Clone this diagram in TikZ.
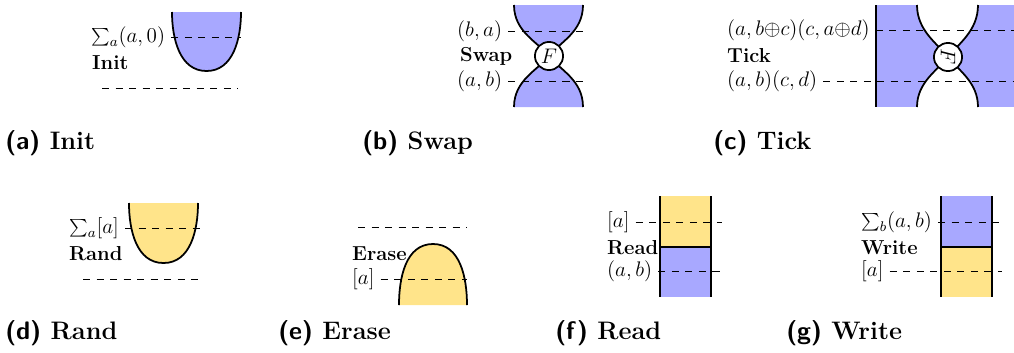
\documentclass[tikz,border=0pt]{standalone}
\usepackage{graphicx}
\definecolor{qblue}{RGB}{168,168,255}
\definecolor{cyellow}{RGB}{255,228,138}
\begin{document}
\begin{tikzpicture}[x=0.2mm,y=-0.2mm,
    wire/.style={dash pattern=on 4pt off 3.7pt},
    bd/.style={line width=1pt},
    lbl/.style={anchor=west,font=\fontsize{11.5}{14}\selectfont},
    gate/.style={circle,draw,line width=1pt,fill=white,inner sep=0pt,minimum size=16pt,font=\fontsize{11.5}{14}\selectfont},
    subcap/.style={anchor=west,inner sep=0pt,font=\Large\bfseries}]
\useasboundingbox (0,0) rectangle (1014,352);
% (a) Init
\fill[qblue](172,12) to[out=-90,in=180] (206.5,71) to[out=0,in=-90] (241,12)--cycle;
\node[lbl] (initTop) at (85,37) {$\sum_a(a,0)$};
\node[lbl] (initName) at (86,63) {\textbf{Init}};
\coordinate (initTopEnd) at (241,37);
\coordinate (initBotA) at (102,88);
\coordinate (initBotB) at (238,88);
\draw[wire](initTop.east)--(initTopEnd);
\draw[wire](initBotA)--(initBotB);
\draw[bd](172,12) to[out=-90,in=180] (206.5,71) to[out=0,in=-90] (241,12);
\node[subcap] (capA) at (5,143) {{\sffamily (a)} Init};
% (b) Swap
\fill[qblue](514,5) .. controls (514,32) and (538,42) .. (549,56) .. controls (560,42) and (583,32) .. (583,5)--cycle;
\fill[qblue](514,107) .. controls (514,80) and (538,70) .. (549,56) .. controls (560,70) and (583,80) .. (583,107)--cycle;
\node[lbl] (swapTop) at (451,31) {$(b,a)$};
\node[lbl] (swapName) at (454,56) {\textbf{Swap}};
\node[lbl] (swapBot) at (451,81) {$(a,b)$};
\coordinate (swapTopEnd) at (583,31);
\coordinate (swapBotEnd) at (583,81);
\draw[wire](swapTop.east)--(swapTopEnd);
\draw[wire](swapBot.east)--(swapBotEnd);
\draw[bd](514,5) .. controls (514,32) and (538,42) .. (549,56) .. controls (560,42) and (583,32) .. (583,5);
\draw[bd](514,107) .. controls (514,80) and (538,70) .. (549,56) .. controls (560,70) and (583,80) .. (583,107);
\node[gate] (swapF) at (549,56) {$F$};
\node[subcap] (capB) at (362,143) {{\sffamily (b)} Swap};
% (c) Tick
\fill[qblue](876,5) rectangle (1014,107);
\fill[white](917,5) .. controls (917,31) and (938,44) .. (948,57) .. controls (958,44) and (978,31) .. (978,5)--cycle;
\fill[white](917,107) .. controls (917,82) and (938,70) .. (948,57) .. controls (958,70) and (978,82) .. (978,107)--cycle;
\node[lbl] (tickTop) at (721,30) {$(a,b{\oplus}c)(c,a{\oplus}d)$};
\node[lbl] (tickName) at (721,56) {\textbf{Tick}};
\node[lbl] (tickBot) at (721,81) {$(a,b)(c,d)$};
\coordinate (tickTopEnd) at (1014,30);
\coordinate (tickBotEnd) at (1014,81);
\draw[wire](tickTop.east)--(tickTopEnd);
\draw[wire](tickBot.east)--(tickBotEnd);
\draw[bd](876,5)--(876,107);
\draw[bd](917,5) .. controls (917,31) and (938,44) .. (948,57) .. controls (958,44) and (978,31) .. (978,5);
\draw[bd](917,107) .. controls (917,82) and (938,70) .. (948,57) .. controls (958,70) and (978,82) .. (978,107);
\node[gate] (tickF) at (948,57) {\rotatebox{-90}{$F$}};
\node[subcap] (capC) at (713,143) {{\sffamily (c)} Tick};
% (d) Rand
\fill[cyellow](129,203) to[out=-90,in=180] (163.5,263) to[out=0,in=-90] (198,203)--cycle;
\node[lbl] (randTop) at (63,228) {$\sum_a[a]$};
\node[lbl] (randName) at (63,254) {\textbf{Rand}};
\coordinate (randTopEnd) at (200,228);
\coordinate (randBotA) at (83,279);
\coordinate (randBotB) at (200,279);
\draw[wire](randTop.east)--(randTopEnd);
\draw[wire](randBotA)--(randBotB);
\draw[bd](129,203) to[out=-90,in=180] (163.5,263) to[out=0,in=-90] (198,203);
\node[subcap] (capD) at (5,333) {{\sffamily (d)} Rand};
% (e) Erase
\fill[cyellow](399,305) to[out=90,in=180] (433,244) to[out=0,in=90] (467,305)--cycle;
\node[lbl] (eraseName) at (346,254) {\textbf{Erase}};
\node[lbl] (eraseBot) at (346,279) {$[a]$};
\coordinate (eraseTopA) at (358,227);
\coordinate (eraseTopB) at (467,227);
\coordinate (eraseBotEnd) at (467,279);
\draw[wire](eraseTopA)--(eraseTopB);
\draw[wire](eraseBot.east)--(eraseBotEnd);
\draw[bd](399,305) to[out=90,in=180] (433,244) to[out=0,in=90] (467,305);
\node[subcap] (capE) at (278,333) {{\sffamily (e)} Erase};
% (f) Read
\fill[cyellow](660,196) rectangle (711,247);
\fill[qblue](660,247) rectangle (711,297);
\node[lbl] (readTop) at (601,222) {$[a]$};
\node[lbl] (readName) at (601,248) {\textbf{Read}};
\node[lbl] (readBot) at (601,271) {$(a,b)$};
\coordinate (readTopEnd) at (722,222);
\coordinate (readBotEnd) at (722,271);
\draw[wire](readTop.east)--(readTopEnd);
\draw[wire](readBot.east)--(readBotEnd);
\draw[bd](660,196)--(660,297);
\draw[bd](711,196)--(711,297);
\draw[bd](660,247)--(711,247);
\node[subcap] (capF) at (555,333) {{\sffamily (f)} Read};
% (g) Write
\fill[qblue](941,196) rectangle (992,247);
\fill[cyellow](941,247) rectangle (992,297);
\node[lbl] (writeTop) at (855,222) {$\sum_b(a,b)$};
\node[lbl] (writeName) at (855,248) {\textbf{Write}};
\node[lbl] (writeBot) at (855,271) {$[a]$};
\coordinate (writeTopEnd) at (1002,222);
\coordinate (writeBotEnd) at (1002,271);
\draw[wire](writeTop.east)--(writeTopEnd);
\draw[wire](writeBot.east)--(writeBotEnd);
\draw[bd](941,196)--(941,297);
\draw[bd](992,196)--(992,297);
\draw[bd](941,247)--(992,247);
\node[subcap] (capG) at (786,333) {{\sffamily (g)} Write};
\end{tikzpicture}
\end{document}
